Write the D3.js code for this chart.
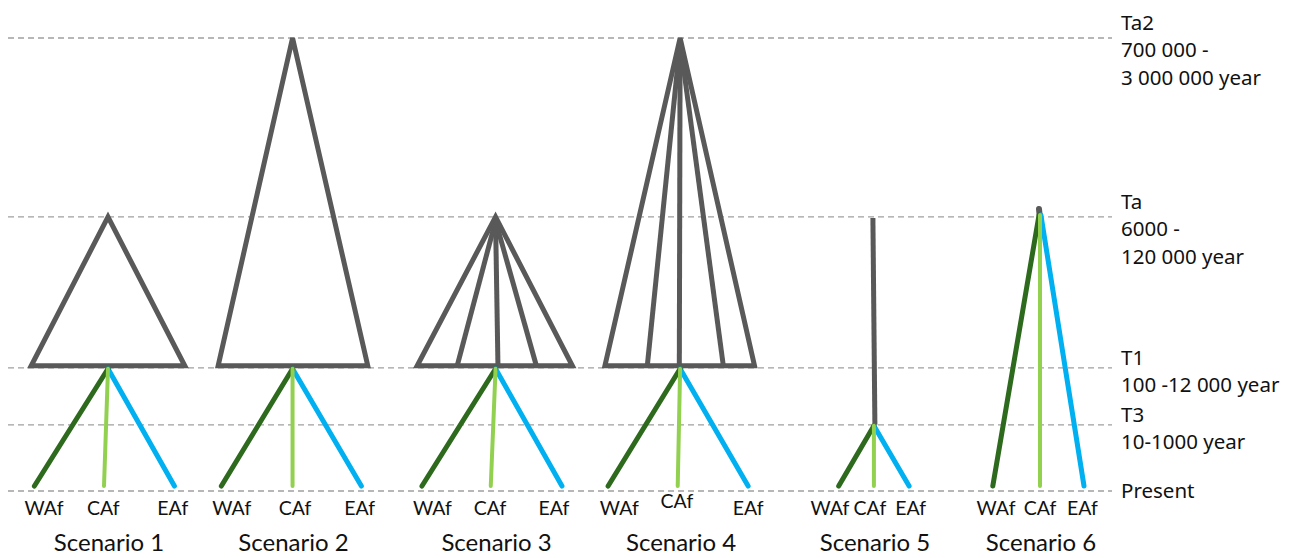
<!DOCTYPE html>
<html><head><meta charset="utf-8">
<script src="https://cdn.jsdelivr.net/npm/d3@7"></script>
<style>body{margin:0;background:#fff}svg{display:block}</style>
</head><body>
<svg id="c" width="1292" height="558"></svg>
<script>
// Time levels (schematic height, Present = 0, Ta2 = 100)
const levels = ["Ta2", "Ta", "T1", "T3", "Present"];
const levelHeight = [100, 60.5, 27.2, 14.6, 0];
const levelText = [["Ta2", "700 000 -", "3 000 000 year"], ["Ta", "6000 -", "120 000 year"], ["T1", "100 -12 000 year"], ["T3", "10-1000 year"], ["Present"]];

// Scenarios
const scenarios = ["Scenario 1", "Scenario 2", "Scenario 3", "Scenario 4", "Scenario 5", "Scenario 6"];
const scenarioPos = [0, 1, 2.1, 3.1, 4.15, 5.05];
const ancestralTop = ["Ta", "Ta2", "Ta", "Ta2", "Ta", "Ta"];
const ancestralBase = ["T1", "T1", "T1", "T1", "T3", "Ta"];
const ancestralShape = ["triangle", "triangle", "fan", "fan", "stem", "stub"];
const baseLeft = [-0.96, -0.93, -0.98, -0.94, 0, 0];
const baseRight = [0.96, 0.94, 0.96, 0.93, 0, 0];
const innerLines = [[], [], [-0.48, 0.03, 0.51], [-0.41, -0.01, 0.54], [], []];

// Populations
const pops = ["WAf", "CAf", "EAf"];
const popColor = ["#2e6a1e", "#92d050", "#00b0f0"];
const popEnd = [[-0.92, -0.05, 0.83], [-0.89, 0, 0.86], [-0.92, -0.06, 0.83], [-0.9, -0.03, 0.85], [-0.44, 0, 0.44], [-0.59, 0, 0.55]];
const popLabel = [[-0.8, -0.06, 0.81], [-0.76, 0.03, 0.84], [-0.79, -0.07, 0.73], [-0.76, -0.04, 0.85], [-0.55, -0.05, 0.46], [-0.55, 0, 0.53]];
const popLabelLift = [[0, 0, 0], [0, 0, 0], [0, 0, 0], [0, 1.6, 0], [0, 0, 0], [0, 0, 0]];

const svg = d3.select("#c");
const y = d3.scaleLinear().domain([0, 100]).range([491, 38]);
const x = d3.scaleLinear().domain([0, 5.05]).range([108, 1040]);
const dx = d3.scaleLinear().domain([-1, 1]).range([-80, 80]);
const lv = name => y(levelHeight[levels.indexOf(name)]);
const GREY = "#595959";

// dashed guide lines
svg.append("g").selectAll("line").data(levels).join("line")
  .attr("x1", 8).attr("x2", 1112)
  .attr("y1", d => lv(d)).attr("y2", d => lv(d))
  .attr("stroke", "#a0a0a0").attr("stroke-width", 1.3).attr("stroke-dasharray", "6,4");

// right labels
const rl = svg.append("g").attr("font-family", "'Noto Sans', sans-serif").attr("font-size", 20.5).attr("fill", "#111");
levels.forEach((l, i) => {
  const t = levelText[i];
  const base = l === "Present" ? lv(l) + 7 : (l === "T1" || l === "T3") ? lv(l) - 3 : lv(l) - 8;
  t.forEach((s, j) => rl.append("text").attr("x", 1121).attr("y", base + j * 27.3).text(s));
});

scenarios.forEach((s, i) => {
  const cx = x(scenarioPos[i]);
  const g = svg.append("g");
  const top = lv(ancestralTop[i]), bot = lv(ancestralBase[i]);
  const shape = ancestralShape[i];
  if (shape === "triangle" || shape === "fan") {
    const by = bot - 2;
    const pts = [[cx, top], [cx + dx(baseLeft[i]), by], [cx + dx(baseRight[i]), by]];
    g.append("path").attr("d", d3.line()(pts) + "Z")
      .attr("fill", "none").attr("stroke", GREY).attr("stroke-width", 5).attr("stroke-linejoin", "miter");
    innerLines[i].forEach(o => g.append("line")
      .attr("x1", cx).attr("y1", top + 4).attr("x2", cx + dx(o)).attr("y2", by)
      .attr("stroke", GREY).attr("stroke-width", 5));
  } else if (shape === "stem") {
    g.append("line").attr("x1", cx - 1).attr("y1", top + 1).attr("x2", cx + 1).attr("y2", bot)
      .attr("stroke", GREY).attr("stroke-width", 5);
  } else {
    g.append("line").attr("x1", cx - 1).attr("y1", top - 8).attr("x2", cx).attr("y2", top + 2)
      .attr("stroke", GREY).attr("stroke-width", 6).attr("stroke-linecap", "round");
  }
  // population branches
  const oy = shape === "stub" ? top - 2 : bot + 1;
  const order = [2, 0, 1];
  order.forEach(p => {
    g.append("line")
      .attr("x1", cx + (shape === "stub" ? dx(popEnd[i][p]) * 0.02 : 0)).attr("y1", oy)
      .attr("x2", cx + dx(popEnd[i][p])).attr("y2", y(1.1))
      .attr("stroke", popColor[p]).attr("stroke-width", p === 1 ? 4 : 5).attr("stroke-linecap", "round");
  });
  pops.forEach((p, j) => g.append("text")
    .attr("x", cx + dx(popLabel[i][j])).attr("y", y(-5.3) + popLabelLift[i][j] * -4.5)
    .attr("text-anchor", "middle").attr("font-family", "Lato, sans-serif").attr("font-size", 19.5).attr("fill", "#111")
    .text(p));
  g.append("text").attr("x", cx + 1).attr("y", 551).attr("text-anchor", "middle")
    .attr("font-family", "Lato, sans-serif").attr("font-size", 24).attr("fill", "#111").text(s);
});
</script>
</body></html>
